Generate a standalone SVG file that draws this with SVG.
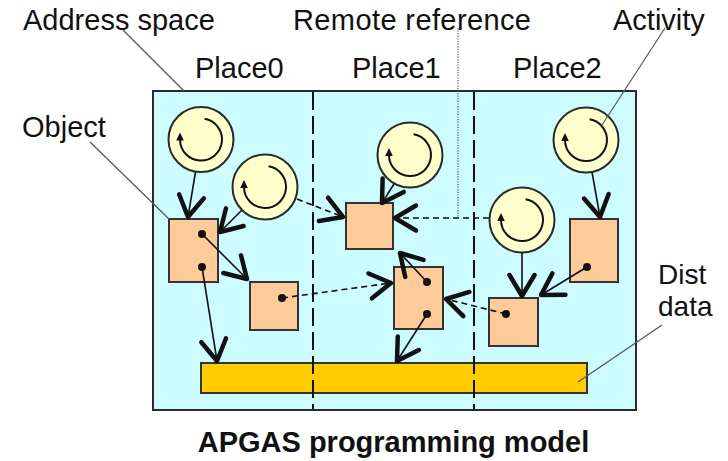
<svg xmlns="http://www.w3.org/2000/svg" width="728" height="461" viewBox="0 0 728 461">
  <style>
    .lbl { font-family: "Liberation Sans", Arial, sans-serif; font-size: 29px; fill: #111; }
    .small { font-size: 28px; }
    .title { font-family: "Liberation Sans", Arial, sans-serif; font-size: 29px; font-weight: bold; fill: #111; }
    .space { fill: #CCFCFF; stroke: #2a2a2a; stroke-width: 2; }
    .divider { stroke: #111; stroke-width: 2; stroke-dasharray: 18 6; fill: none; }
    .act { fill: #FFFFCC; stroke: #2a2a2a; stroke-width: 2; }
    .spin { fill: none; stroke: #111; stroke-width: 2; }
    .obj { fill: #FFCC99; stroke: #333; stroke-width: 2; }
    .dist { fill: #FFCC00; stroke: #333; stroke-width: 2; }
    .dot { fill: #111; }
    .ref { fill: none; stroke: #111; stroke-width: 1.6; marker-end: url(#vhead); }
    .remote { stroke-dasharray: 6 4; }
    .leader { fill: none; stroke: #555; stroke-width: 1.2; }
    .dotted { stroke-dasharray: 1.2 1.4; }
  </style>
  <defs>
    <marker id="vhead" markerUnits="userSpaceOnUse" viewBox="-28 -18 34 36" markerWidth="34" markerHeight="36" refX="0" refY="0" orient="auto" overflow="visible">
      <path d="M -21,-12.5 L 0,0 L -21,12.5" fill="none" stroke="#111" stroke-width="4.5" stroke-linejoin="round" stroke-linecap="round" stroke-dasharray="none"/>
    </marker>
    <!-- activity: circle with a clockwise spin arrow, centred at 0,0 -->
    <g id="activity">
      <circle class="act" r="32.5"/>
      <path class="spin" d="M 3.6,-20.7 A 21 21 0 1 1 -21,0.5"/>
      <path d="M -21,-7 L -24.8,1 L -17.2,1 Z" fill="#111"/>
    </g>
  </defs>

  <!-- global address space split into places -->
  <rect id="address-space" class="space" x="153" y="91" width="483" height="319"/>

  <g id="dist-data">
    <rect class="dist" x="201" y="363" width="386" height="30"/>
  </g>

  <g id="place-dividers">
    <line class="divider" x1="313" y1="92" x2="313" y2="409"/>
    <line class="divider" x1="474" y1="92" x2="474" y2="409"/>
  </g>

  <!-- activities -->
  <g id="act-p0-a"><use href="#activity" x="201" y="139.5"/></g>
  <g id="act-p0-b"><use href="#activity" x="265" y="187"/></g>
  <g id="act-p1"><use href="#activity" x="410" y="155"/></g>
  <g id="act-p2-a"><use href="#activity" x="586" y="140"/></g>
  <g id="act-p2-b"><use href="#activity" x="522" y="220"/></g>

  <!-- objects -->
  <g id="obj-p0-a">
    <rect class="obj" x="169" y="219" width="49" height="63"/>
    <circle class="dot" cx="202" cy="234" r="4"/>
    <circle class="dot" cx="202" cy="267" r="4"/>
  </g>
  <g id="obj-p0-b">
    <rect class="obj" x="250" y="282" width="48" height="48"/>
    <circle class="dot" cx="282" cy="298" r="4"/>
  </g>
  <g id="obj-p1-a">
    <rect class="obj" x="346" y="203" width="47" height="46"/>
  </g>
  <g id="obj-p1-b">
    <rect class="obj" x="394" y="267" width="49" height="62"/>
    <circle class="dot" cx="427" cy="282" r="4"/>
    <circle class="dot" cx="427" cy="314" r="4"/>
  </g>
  <g id="obj-p2-a">
    <rect class="obj" x="570" y="219" width="48" height="63"/>
    <circle class="dot" cx="587" cy="267" r="4"/>
  </g>
  <g id="obj-p2-b">
    <rect class="obj" x="489" y="298" width="49" height="48"/>
    <circle class="dot" cx="506" cy="314" r="4"/>
  </g>

  <!-- references: solid = local, dashed = remote -->
  <g id="connectors">
    <path class="ref" d="M195.5,172 L188,217"/>
    <path class="ref" d="M242,210 L220,232"/>
    <path class="ref" d="M202,234 L247,279"/>
    <path class="ref" d="M202,267 L217,361"/>
    <path class="ref" d="M394,184 L382,203"/>
    <path class="ref" d="M427,282 L400,253"/>
    <path class="ref" d="M427,314 L397,361"/>
    <path class="ref" d="M522,252.5 L522,296"/>
    <path class="ref" d="M587,267 L541,295"/>
    <path class="ref" d="M592,172 L600,217"/>
    <path class="ref remote" d="M297,199 L343,217"/>
    <path class="ref remote" d="M489,218 L395,218"/>
    <path class="ref remote" d="M282,298 L391,283"/>
    <path class="ref remote" d="M506,314 L446,299"/>
  </g>

  <!-- callout leaders -->
  <g id="leaders">
    <line class="leader" x1="123" y1="30" x2="184" y2="91"/>
    <line class="leader" x1="90" y1="142" x2="169" y2="219"/>
    <line class="leader dotted" x1="458" y1="28" x2="458" y2="218"/>
    <line class="leader" x1="665" y1="28" x2="602" y2="125"/>
    <line class="leader" x1="662" y1="325" x2="578" y2="382"/>
  </g>

  <g id="labels">
    <text class="lbl" x="23" y="30">Address space</text>
    <text class="lbl" x="293" y="30" textLength="238">Remote reference</text>
    <text class="lbl" x="613" y="30">Activity</text>
    <text class="lbl" x="195" y="78">Place0</text>
    <text class="lbl" x="352" y="78">Place1</text>
    <text class="lbl" x="513" y="78">Place2</text>
    <text class="lbl" x="22" y="137">Object</text>
    <text class="lbl small" x="658" y="284">Dist</text>
    <text class="lbl small" x="658" y="316">data</text>
    <text class="title" x="393.5" y="452" text-anchor="middle">APGAS programming model</text>
  </g>
</svg>
